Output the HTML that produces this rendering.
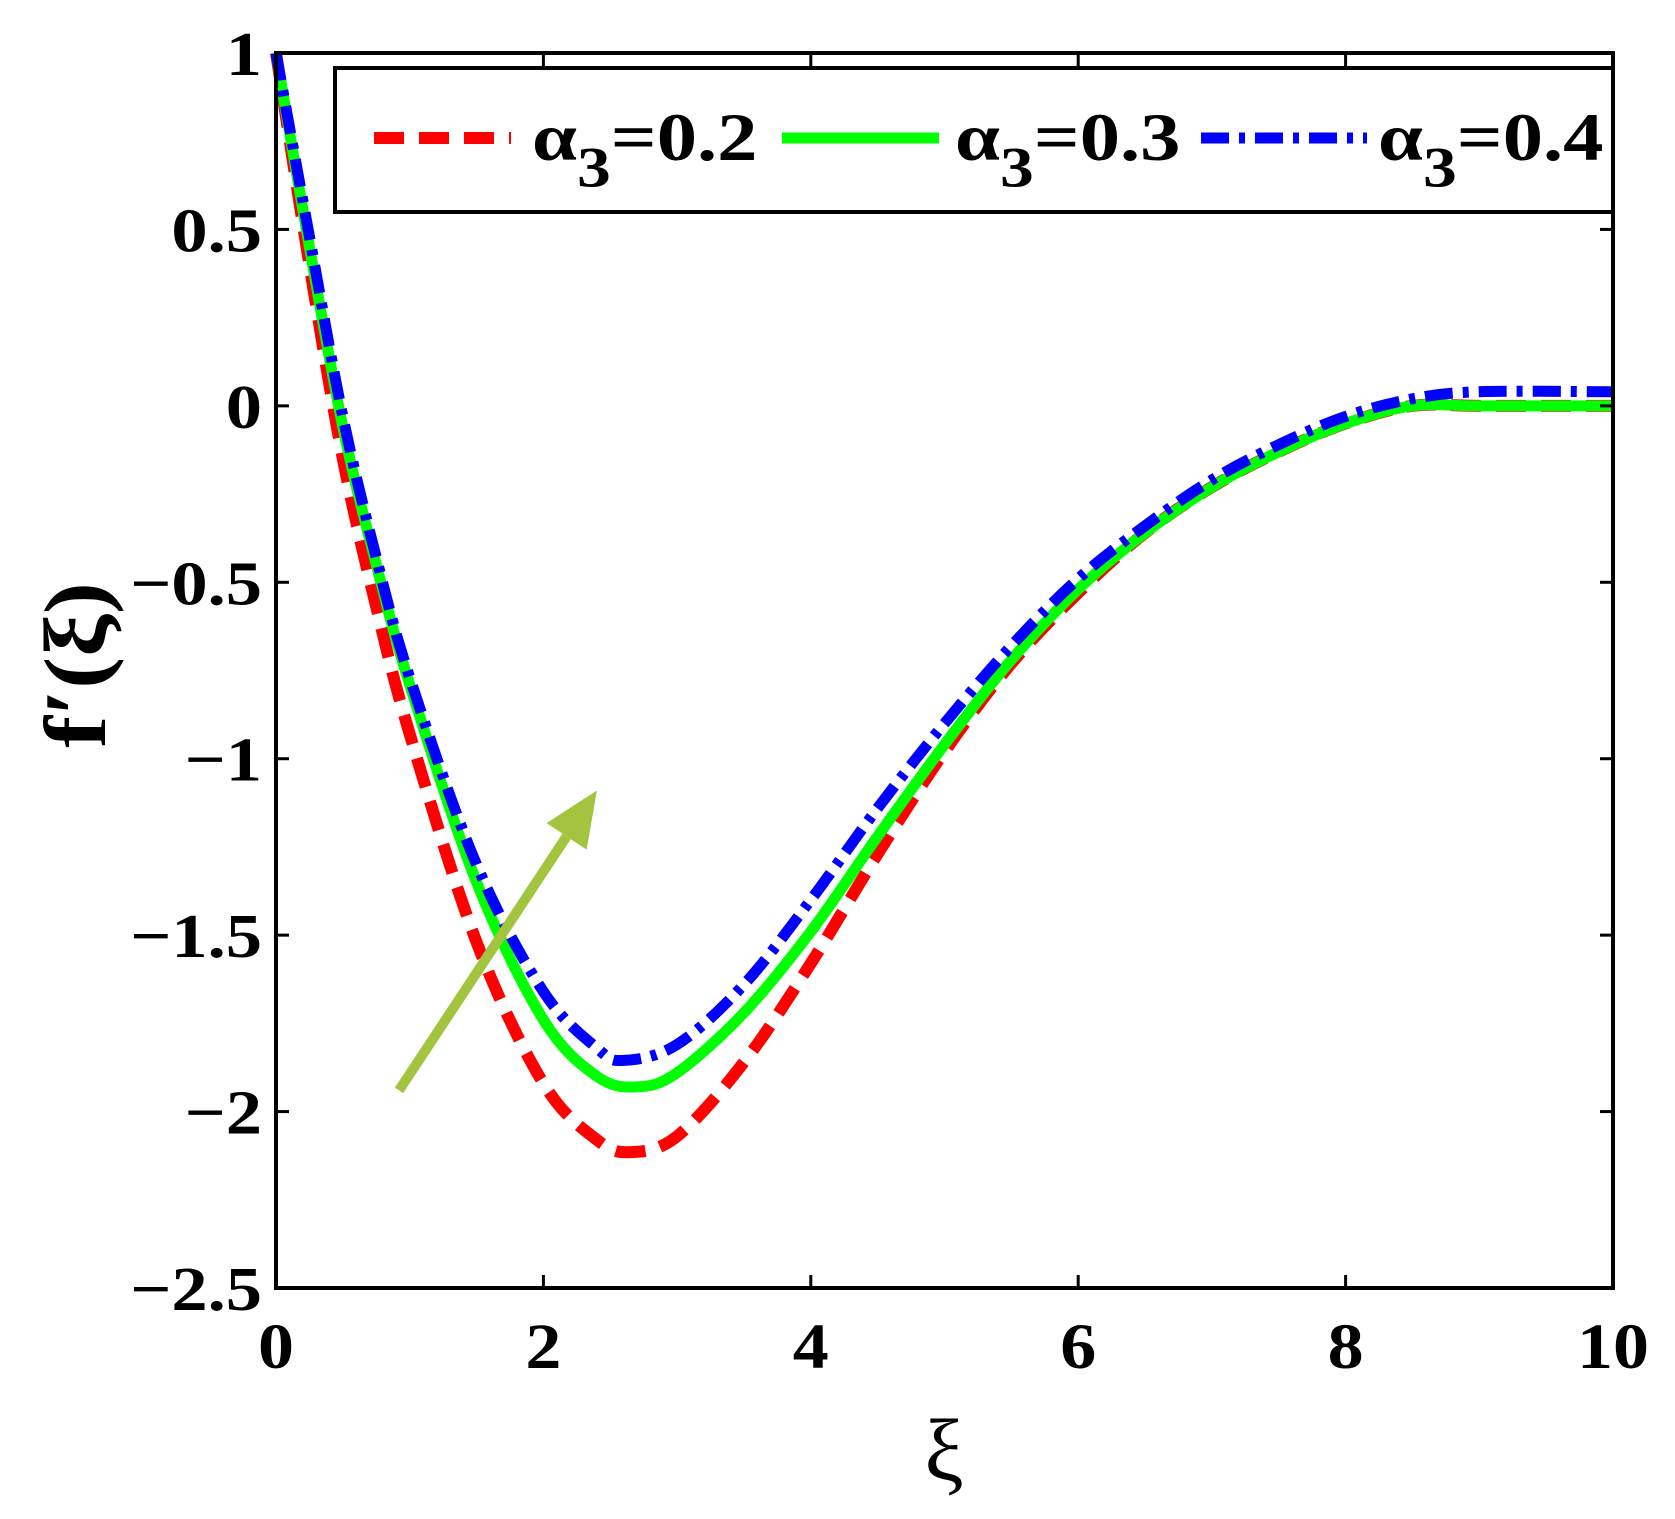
<!DOCTYPE html>
<html><head><meta charset="utf-8"><style>
html,body{margin:0;padding:0;background:#fff;}
svg{display:block;}
text{font-family:"Liberation Serif",serif;fill:#000;}
</style></head><body>
<svg id="s" width="1675" height="1519" xmlns="http://www.w3.org/2000/svg"></svg>
<script>
const L=276,R=1613,T=53,B=1288;
const X=x=>L+x*(R-L)/10, Y=y=>T+(1-y)*(B-T)/3.5;
const s=document.getElementById('s');let h='';
function cr(pts){let P=pts.map(p=>[X(p[0]),Y(p[1])]);let d='M'+P[0][0]+','+P[0][1];
for(let i=0;i<P.length-1;i++){const p0=P[Math.max(0,i-1)],p1=P[i],p2=P[i+1],p3=P[Math.min(P.length-1,i+2)];
d+=` C${p1[0]+(p2[0]-p0[0])/6},${p1[1]+(p2[1]-p0[1])/6} ${p2[0]-(p3[0]-p1[0])/6},${p2[1]-(p3[1]-p1[1])/6} ${p2[0]},${p2[1]}`;}return d;}
const tail=[[6.5,-0.36],[7,-0.23],[7.5,-0.13],[8,-0.05],[8.5,0],[9,0],[10,0]];
const red=[[0,1],[0.25,0.4],[0.5,-0.15],[0.75,-0.57],[1,-0.93],[1.5,-1.52],[2,-1.92],[2.4,-2.08],[2.65,-2.115],[3,-2.07],[3.5,-1.86],[4,-1.58],[4.5,-1.27],[5,-0.98],[5.5,-0.73],[6,-0.53]].concat(tail);
const green=[[0,1],[0.25,0.45],[0.5,-0.06],[0.75,-0.45],[1,-0.79],[1.5,-1.35],[2,-1.74],[2.4,-1.9],[2.7,-1.93],[3,-1.89],[3.5,-1.72],[4,-1.49],[4.5,-1.22],[5,-0.96],[5.5,-0.72],[6,-0.52]].concat(tail);
const blue=[[0,1],[0.25,0.48],[0.5,-0.03],[0.75,-0.43],[1,-0.77],[1.5,-1.30],[2,-1.66],[2.4,-1.82],[2.6,-1.855],[3,-1.81],[3.5,-1.64],[4,-1.40],[4.5,-1.14],[5,-0.90],[5.5,-0.68],[6,-0.49],[6.5,-0.34],[7,-0.21],[7.5,-0.11],[8,-0.03],[8.5,0.02],[9,0.04],[10,0.04]];
h+=`<path d="${cr(red)}" fill="none" stroke="#f00" stroke-width="12" stroke-dasharray="30,15"/>`;
h+=`<path d="${cr(green)}" fill="none" stroke="#0f0" stroke-width="11"/>`;
h+=`<path d="${cr(blue)}" fill="none" stroke="#00f" stroke-width="11" stroke-dasharray="28,10,6,10"/>`;
const ax1=X(0.92),ay1=Y(-1.94),ax2=X(2.4),ay2=Y(-1.09);
const ang=Math.atan2(ay2-ay1,ax2-ax1);const hl=55,hw=24;
const bx=ax2-hl*Math.cos(ang),by=ay2-hl*Math.sin(ang);
h+=`<line x1="${ax1}" y1="${ay1}" x2="${bx}" y2="${by}" stroke="#a2c43e" stroke-width="10"/>`;
h+=`<polygon points="${ax2},${ay2} ${bx-hw*Math.sin(ang)},${by+hw*Math.cos(ang)} ${bx+hw*Math.sin(ang)},${by-hw*Math.cos(ang)}" fill="#a2c43e"/>`;
h+=`<rect x="${L}" y="${T}" width="${R-L}" height="${B-T}" fill="none" stroke="#000" stroke-width="4"/>`;
for(let i=0;i<=5;i++){const x=X(i*2);h+=`<line x1="${x}" y1="${B}" x2="${x}" y2="${B-13}" stroke="#000" stroke-width="3"/><line x1="${x}" y1="${T}" x2="${x}" y2="${T+13}" stroke="#000" stroke-width="3"/>`;
h+=`<text transform="translate(${x},1368) scale(1.2,1.08)" font-size="60" font-weight="bold" text-anchor="middle">${i*2}</text>`;}
const yl=['1','0.5','0','\u22120.5','\u22121','\u22121.5','\u22122','\u22122.5'];
for(let i=0;i<8;i++){const y=Y(1-i*0.5);h+=`<line x1="${L}" y1="${y}" x2="${L+13}" y2="${y}" stroke="#000" stroke-width="3"/><line x1="${R}" y1="${y}" x2="${R-13}" y2="${y}" stroke="#000" stroke-width="3"/>`;
h+=`<text transform="translate(262,${y+22}) scale(1.25,1.08)" font-size="58" font-weight="bold" text-anchor="end">${yl[i]}</text>`;}
h+=`<rect x="335" y="68" width="${R-335}" height="144" fill="#fff" stroke="#000" stroke-width="4"/>`;
h+=`<line x1="374" y1="138" x2="511" y2="138" stroke="#f00" stroke-width="12" stroke-dasharray="30,15"/>`;
h+=`<line x1="782" y1="138" x2="939" y2="138" stroke="#0f0" stroke-width="11"/>`;
h+=`<line x1="1201" y1="138" x2="1367" y2="138" stroke="#00f" stroke-width="11" stroke-dasharray="28,10,6,10"/>`;
[[532,'0.2'],[955,'0.3'],[1378,'0.4']].forEach(a=>{h+=`<text transform="translate(${a[0]},160) scale(1.3,1.1)" font-size="62" font-weight="bold">α<tspan dy="24" font-size="52">3</tspan><tspan dy="-24">=${a[1]}</tspan></text>`;});
h+=`<text transform="translate(105,665) rotate(-90) scale(1.2,1.1)" font-size="80" font-weight="bold" text-anchor="middle">f′(ξ)</text>`;
h+=`<text x="944" y="1480" font-size="88" text-anchor="middle">ξ</text>`;
s.innerHTML=h;
</script>
</body></html>
